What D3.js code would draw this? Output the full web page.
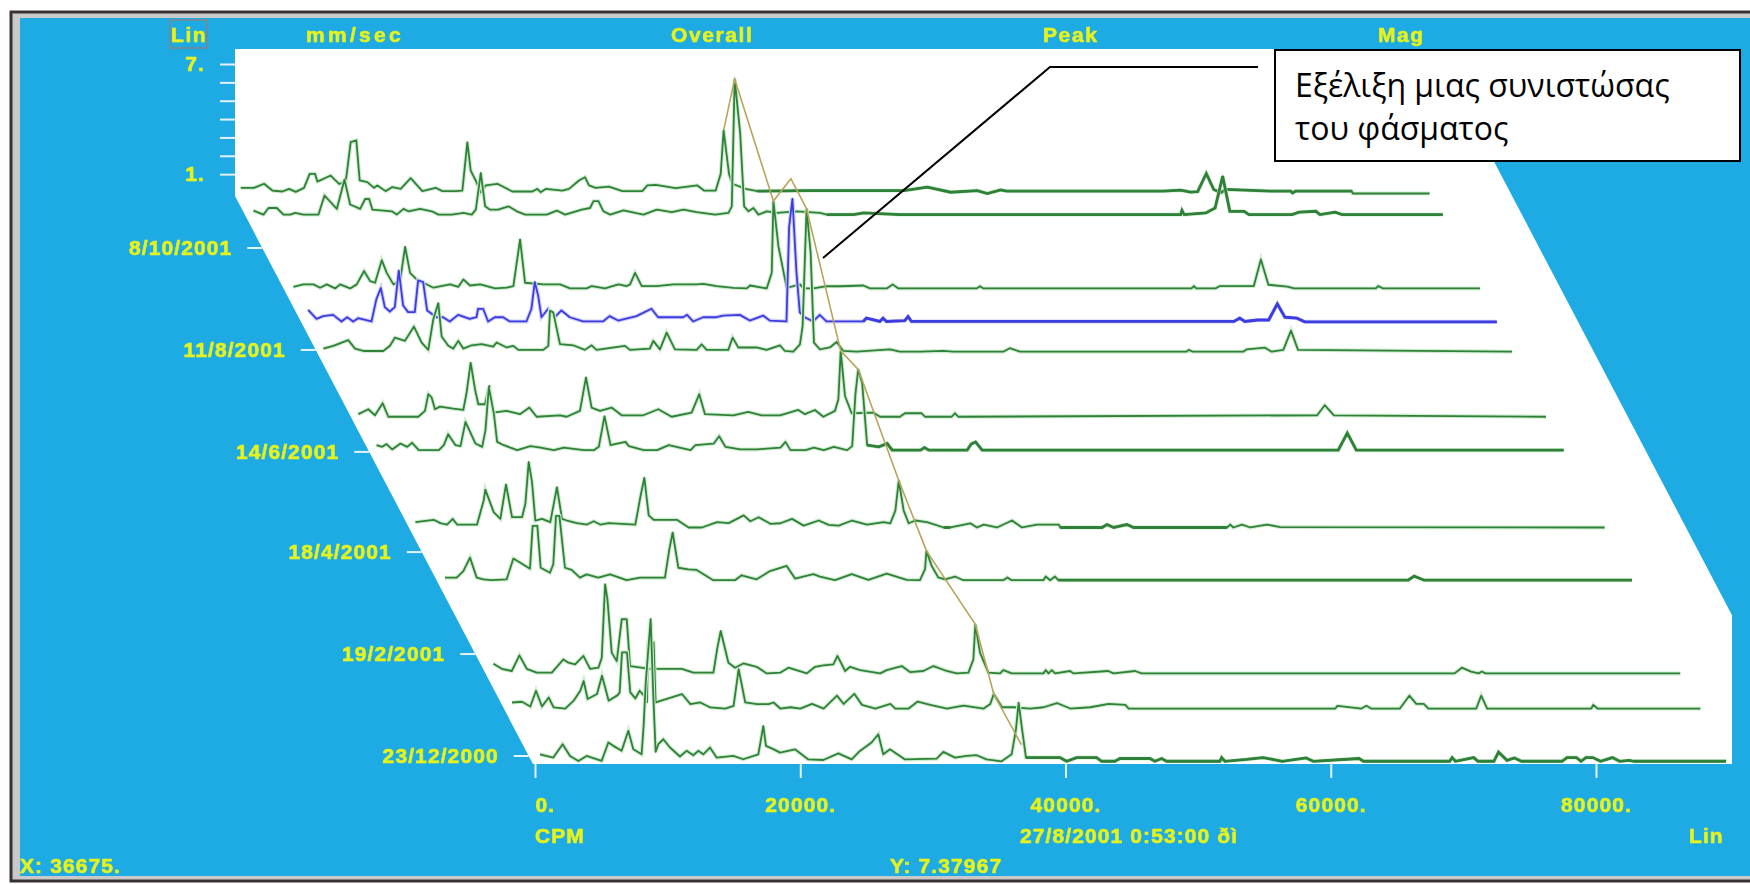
<!DOCTYPE html>
<html>
<head>
<meta charset="utf-8">
<script src="https://cdnjs.cloudflare.com/ajax/libs/d3/7.8.5/d3.min.js"></script>
<style>
  html, body { margin: 0; padding: 0; background: #fff; }
  svg { display: block; }
  .lbl { font-family: "Liberation Sans", sans-serif; font-weight: bold; fill: #e6f21e; stroke: #e6f21e; stroke-width: 0.6px; letter-spacing: 1.1px; }
  .soft { filter: blur(0.65px); }
</style>
</head>
<body>
<div id="chart"></div>
<script>
///////////////////////////////////////////
// Data
///////////////////////////////////////////
// acquisition date of each spectrum, back to front
var rowDates = ["8/11/2001", "27/10/2001", "15/9/2001", "27/8/2001", "10/8/2001", "4/7/2001",
  "15/6/2001", "2/5/2001", "2/4/2001", "8/2/2001", "19/1/2001", "20/12/2000"];

// [CPM, mm/sec] vertices of each spectrum
var row1 = [[264,.31],[1269,.31],[2023,.53],[2651,.16],[3405,.11],[3908,.25],[4410,.09],[5039,.31],[5466,1.07],[5868,1.07],[6044,.65],[7049,.98],[7678,.53],[8180,.62],[8557,2.8],[8984,2.89],[9236,.71],[9813,.62],[10316,.31],[10568,.44],[11196,.13],[11698,.35],[12327,.25],[13081,.84],[13960,.13],[14965,.31],[15468,.13],[16473,.13],[16976,.16],[17353,2.8],[17604,1.25],[17983,.71],[18358,.07],[18736,.44],[19614,.53],[20745,.11],[22253,.11],[22630,.25],[22881,.07],[23258,.25],[24515,.16],[25017,.25],[25771,.71],[26223,.89],[26525,.44],[27027,.31],[28032,.38],[29038,.13],[30546,.13],[30923,.44],[31555,.47],[33062,.29],[34696,.44],[35198,.16],[36078,.16],[36455,1.07],[36675,3.44],[37083,1.07],[37335,.53],[38340,.25],[39220,.13],[42989,.16],[50277,.16],[52036,.35],[53794,.07],[55805,.16],[56559,0],[57563,.2],[58000,.13],[69835,.13],[71130,.18],[71880,.08],[72420,.1],[73070,1.09],[73630,.22],[74160,.05],[74530,.22],[77925,.13],[79430,.13],[79580,.03],[79810,.13],[84040,.13],[84110,0],[89910,0]];
var row2 = [[394,.22],[1148,0],[1525,.36],[2153,.36],[2656,0],[3159,0],[3535,.09],[4164,0],[5295,0],[5747,1.04],[6677,.31],[7255,1.91],[7682,.55],[8436,.31],[8813,.85],[9114,.85],[9366,.27],[10823,.18],[11200,0],[11703,.31],[12080,.18],[12960,.31],[13840,.18],[14340,0],[15345,0],[16226,.09],[16854,0],[17156,.27],[17533,2.27],[17860,.45],[18236,.27],[18840,.27],[19620,.45],[20247,.18],[20876,0],[22508,0],[23266,.22],[23890,0],[25147,.27],[25775,.36],[26025,.73],[26404,.73],[26780,.18],[27287,0],[28292,.23],[29800,0],[30805,.27],[31935,.13],[32816,.27],[33820,.13],[35203,0],[36208,.09],[36460,.45],[36675,7.38],[37088,4.45],[37389,.45],[37716,.18],[38093,.36],[38470,0],[39098,.18],[39850,.09],[41360,.18],[43120,.09],[43620,0],[45630,0],[46390,.09],[49150,0],[70300,0],[70400,.23],[70570,0],[72200,.09],[72900,.36],[73470,2.09],[74010,.18],[75090,.18],[75450,0],[78700,0],[79240,.13],[80500,.18],[80810,0],[81950,.13],[82480,0],[90060,0]];
var row3 = [[485,.09],[1239,.22],[1993,.22],[2496,.04],[3000,.22],[3627,0],[4004,.22],[4757,0],[5260,.22],[5813,.95],[6265,.4],[6642,.31],[7145,1.54],[7522,.85],[8024,.22],[8527,.4],[8904,2.27],[9281,.85],[9909,.4],[10286,.31],[11040,.04],[12300,.22],[12925,.09],[13300,.49],[13800,.16],[14560,.22],[15060,.13],[15690,0],[16570,.04],[17070,.13],[17574,2.67],[17950,.31],[19330,.22],[20590,.22],[21340,0],[22600,0],[22980,.13],[23980,0],[24990,.22],[25615,.13],[25870,.22],[26245,.85],[26750,.13],[27880,.13],[29130,.22],[30895,.22],[31400,.25],[32400,.12],[33660,.03],[34665,0],[34920,.16],[36170,0],[36550,.85],[36675,4.76],[37052,2.3],[37680,.03],[38686,.22],[38940,0],[39690,0],[40700,.12],[41700,.12],[43460,.16],[43960,0],[45220,0],[45670,.22],[46100,0],[52000,0],[52250,.12],[52510,0],[68200,0],[68380,.13],[68560,0],[70000,0],[70350,.13],[71980,.13],[72900,.13],[73430,1.58],[74000,.2],[75410,.1],[75950,0],[82100,0],[82270,.13],[82630,0],[89960,0]];
var row4 = [[274,.65],[903,.16],[1405,.31],[2160,.38],[2790,.02],[3214,.25],[3670,.02],[4044,.2],[5050,.02],[5425,1.25],[5753,1.84],[6054,.8],[6430,.56],[6808,.8],[7110,2.8],[7436,.89],[7813,.53],[8316,.53],[8567,2.26],[8944,2.17],[9245,.62],[9950,.25],[10452,.25],[10955,.02],[11583,.38],[12463,.16],[12965,.25],[13090,.71],[13468,.71],[13845,.02],[14350,.25],[14975,.25],[15480,.02],[16735,.02],[17110,.71],[17360,2.17],[17615,1.44],[17865,.25],[18370,.71],[18870,.25],[19375,.62],[20000,.25],[21000,.02],[22500,.02],[23000,.31],[23650,.07],[25030,.31],[26160,.71],[26660,.25],[28550,.25],[28850,.38],[29300,.02],[30056,.25],[31060,.25],[31564,.34],[32820,.38],[33575,.07],[34580,.34],[35080,.07],[36340,.02],[36540,5.16],[36790,6.71],[37093,2.7],[37344,.52],[37720,.25],[38350,.02],[38850,.38],[39354,.02],[42120,.02],[42370,.2],[43375,.02],[43625,.2],[43880,.02],[45260,.07],[45510,.29],[45760,.02],[70070,.02],[70520,.2],[70900,.02],[71870,.1],[72700,.1],[73350,.98],[73920,.25],[74820,.2],[75420,0],[89900,0]];
var row5 = [[236,.17],[990,.32],[2120,.63],[2625,.17],[3252,.04],[4130,.04],[4760,.04],[5262,.32],[5640,.77],[6393,.59],[7070,1.37],[7650,.5],[8150,.1],[8530,1.77],[8906,2.65],[9158,.83],[9660,.32],[10040,.17],[10414,.59],[10790,.17],[11420,.35],[12170,.41],[13050,.28],[13300,.5],[14060,.23],[14560,.32],[14940,.1],[16820,.1],[17200,.32],[17325,2.23],[17575,2.14],[18080,.41],[19080,.35],[19960,.1],[20470,.35],[20840,.1],[22980,.32],[23356,.1],[24860,.17],[25115,.59],[25620,.13],[26123,1.04],[26750,.13],[28385,.1],[28760,.4],[29140,.1],[30770,.1],[31100,.77],[31526,.23],[32910,.23],[33660,.1],[34667,.35],[35044,.04],[35675,0],[36175,.4],[36376,1.4],[36675,7.78],[36980,5.4],[37230,.5],[37680,.13],[38430,.23],[38940,.53],[39440,.04],[40450,0],[42960,.13],[43710,0],[45220,0],[46980,.04],[47735,0],[51500,0],[52000,.19],[52770,0],[65300,0],[65500,.1],[65800,0],[69600,0],[69860,.13],[71240,.22],[71740,0],[72620,.1],[73200,1.15],[73730,.1],[89870,0]];
var row6 = [[304,.14],[1058,.41],[1560,.08],[2138,.74],[2565,0],[4827,0],[5330,.32],[5580,1.23],[5830,1.05],[6084,.41],[6460,.55],[7466,.44],[8220,.37],[8470,1.32],[8773,2.95],[9100,1.5],[9350,.68],[9850,.68],[10180,1.68],[10480,.23],[11486,.32],[12490,.14],[13200,.5],[13750,0],[15510,.08],[16010,0],[17015,.32],[17470,2.14],[17895,.5],[18520,.32],[19400,.5],[20157,.08],[21790,.08],[22920,.41],[23926,0],[25434,.22],[26010,1.23],[26440,.14],[28575,.08],[29706,.26],[30710,.08],[32100,.08],[33480,.37],[33980,.14],[34735,.37],[35365,0],[36245,.32],[36500,.95],[36675,3.59],[37000,1.13],[37500,.19],[39135,.23],[39640,0],[41145,0],[41520,.19],[42780,.19],[43030,0],[45040,0],[45290,.19],[45540,0],[72600,.08],[73170,.63],[73860,.08],[89850,0]];
var row7 = [[354,.27],[781,.18],[1108,.33],[1535,.04],[2163,.36],[2666,.18],[3040,.4],[3545,0],[5053,0],[5430,.27],[5757,.87],[6310,.27],[6686,.22],[7063,1.54],[7817,.36],[8320,.18],[8570,1.09],[8823,3.42],[9200,2],[9450,.45],[9950,.27],[10960,0],[11960,.22],[12718,.14],[13725,0],[14480,.14],[15990,0],[16740,0],[17115,.18],[17545,1.85],[18000,.27],[18500,.36],[19130,.45],[19375,.22],[20510,0],[21510,0],[22390,.27],[24030,0],[24400,.27],[25785,.36],[26190,.76],[26665,.18],[27800,.04],[29050,.04],[30810,.14],[31190,.45],[31570,0],[32700,0],[33330,.14],[34080,0],[34837,.18],[35840,0],[36220,.22],[36470,3.09],[36675,4.4],[36975,3.64],[37350,.27],[38230,.18],[38860,.36],[39235,0],[41370,0],[41670,.14],[42000,0],[44890,0],[45190,.33],[45520,.45],[46020,0],[72870,0],[73550,.93],[74230,0],[89860,0]];
var row8 = [[225,.29],[1607,.42],[2110,.24],[2612,.16],[3040,.47],[3370,.16],[4875,.16],[5377,1.47],[5500,2.06],[6130,.84],[6633,.47],[7060,2.35],[7513,.56],[8267,.56],[8520,1.29],[8770,3.57],[9020,2.47],[9270,.38],[9775,.47],[10400,.29],[10900,2.2],[11280,.47],[11660,.38],[12410,.24],[13170,.16],[13670,.34],[14170,.16],[14800,.24],[16810,.16],[17190,1.66],[17490,2.71],[17820,.66],[18190,.42],[19950,.42],[20830,0],[21830,0],[22970,.29],[23850,.24],[24980,.66],[25480,.34],[26110,.56],[26990,.2],[27750,.23],[28627,.47],[29506,.1],[30637,.38],[31390,.14],[32145,.1],[33150,.38],[34280,.16],[35537,.29],[36040,.23],[36417,.92],[36675,2.56],[37045,.92],[37420,.23],[37925,.38],[38800,.29],[40060,0],[40560,0],[42070,.23],[42570,0],[43080,.16],[44080,0],[45210,.38],[45965,0],[47100,.16],[48730,.16],[48860,0],[52000,0],[52375,.16],[52880,0],[53880,.16],[54380,0],[61420,0],[61670,.16],[61900,0],[62550,.16],[63180,0],[64440,.16],[65440,.02],[89900,0]];
var row9 = [[376,.14],[1255,.14],[1758,.5],[2260,1.23],[2763,.14],[3266,.05],[3890,0],[5025,.05],[5530,1.18],[6030,.96],[6780,.63],[6985,2.96],[7336,2.96],[7590,.68],[8290,.41],[8540,.87],[8744,3.5],[9000,3.5],[9420,.68],[9925,.56],[10550,.14],[11055,.32],[11935,.14],[12815,.32],[14070,0],[15080,.14],[16960,.14],[17290,1.69],[17540,2.6],[17970,.68],[18720,.59],[19350,.56],[20600,0],[22240,0],[22740,.27],[23870,.05],[24880,.5],[26140,.78],[26770,.09],[28150,.33],[28650,.2],[29780,0],[31040,.33],[32300,.02],[33680,.36],[35190,.02],[36190,0],[36570,.6],[36675,1.6],[37070,.78],[37570,.15],[38075,.05],[38830,.2],[39460,0],[42470,0],[42780,.15],[43100,0],[45490,0],[45670,.2],[46000,0],[46370,.2],[46620,0],[73000,0],[73450,.22],[74200,0],[89870,0]];
var row10 = [[341,.53],[970,.25],[1723,.13],[2300,.98],[2854,.25],[3610,.04],[4740,.04],[5620,.76],[6000,.58],[6500,.49],[7126,.95],[7630,.25],[8257,.31],[8510,.85],[8760,4.86],[8936,4.04],[9262,1.13],[9640,.67],[10017,2.95],[10393,2.95],[10644,.4],[12150,.25],[13410,.25],[14540,.25],[15420,.04],[16930,.04],[17230,1.4],[17480,2.31],[18060,.58],[18560,.31],[19190,.54],[20190,.36],[20950,0],[21960,.04],[22585,.31],[23970,0],[24595,.36],[25225,.44],[25976,.49],[26280,.95],[26860,.13],[27230,.36],[27990,.18],[29500,0],[30000,.18],[31130,.4],[31755,.07],[32760,.13],[33520,.4],[34520,.13],[35275,0],[36155,.04],[36530,.76],[36675,2.67],[37030,1.13],[37660,.04],[38540,0],[38790,.18],[39420,0],[41810,0],[41990,.18],[42190,0],[42440,.18],[42690,0],[43820,.13],[44070,0],[46700,.13],[47090,0],[48720,.13],[49220,0],[72810,0],[73360,.31],[74050,.1],[74620,0],[74870,.1],[75150,0],[89830,0]];
var row11 = [[351,.33],[1105,.37],[1733,.11],[2160,.97],[2610,.11],[3115,.6],[3490,.06],[4370,0],[5000,.43],[5500,.97],[5755,1.5],[6056,.52],[6760,.79],[7137,1.79],[7640,.43],[8317,.73],[8470,.88],[8645,3.06],[9020,3.06],[9270,.88],[9650,.55],[9975,.97],[10480,.55],[10530,.33],[10600,3.6],[11030,3.6],[11180,.33],[13170,.79],[13800,.24],[14550,.33],[15300,.06],[16435,0],[17060,.15],[17440,2.15],[17940,.33],[18820,.24],[19700,.24],[20080,.33],[20584,0],[21340,.07],[22090,0],[22970,.25],[23850,0],[24855,.7],[25360,.25],[26160,.8],[26740,.2],[27750,0],[28880,.25],[29250,0],[30260,0],[30940,.38],[31890,.2],[33150,0],[34400,.16],[35915,0],[36415,.25],[36675,.79],[37300,.07],[38175,.07],[39430,0],[40440,.07],[41440,.3],[42450,0],[43950,.07],[45340,.25],[46600,.2],[46850,0],[62430,0],[62600,.15],[64400,0],[64770,.15],[65130,0],[67300,0],[68010,.7],[68540,.25],[69100,.25],[69450,0],[73060,0],[73430,.7],[73880,0],[81730,0],[81880,.2],[82200,0],[89960,0]];
var row12 = [[376,.38],[1380,.2],[2085,.93],[2640,.29],[3270,.02],[3895,.29],[5025,.02],[5530,1.02],[5905,.84],[6533,.57],[7036,1.66],[7413,.66],[8040,.38],[8190,1.93],[8343,4.2],[8720,7.75],[8920,3.57],[9097,.51],[9300,.93],[9675,1.2],[10180,.75],[10930,.26],[11430,.57],[11935,.33],[12314,.57],[12690,.38],[13190,.75],[13695,.2],[14950,.29],[15700,.11],[16840,.38],[17215,1.93],[17415,.84],[17970,.66],[18473,.47],[19600,.65],[20610,.1],[21740,.07],[22870,.43],[23875,.1],[24500,.56],[25380,1.02],[25885,1.47],[26260,.38],[26765,.65],[27900,.1],[30285,.14],[30790,.51],[31670,.2],[32545,.29],[33300,.33],[34050,.1],[35185,0],[35940,.38],[36265,1.74],[36465,3.2],[36690,1.93],[37020,.2],[39580,.2],[40090,0],[40840,.2],[42350,.2],[42720,0],[43730,0],[44100,.15],[46370,.15],[46740,0],[47250,.15],[47620,0],[51640,0],[51770,.2],[52020,0],[53640,.1],[54900,.2],[56350,0],[58140,.18],[58690,0],[62130,.15],[62470,0],[68970,0],[69150,.2],[69400,0],[70780,.2],[71100,0],[72300,0],[72650,.5],[73290,.05],[73850,.18],[74380,0],[77440,0],[77810,.2],[78530,.2],[78870,0],[79240,.2],[79770,.2],[80340,0],[81240,.2],[81780,0],[82490,.05],[82870,0],[89810,0]];
var rows = [row1, row2, row3, row4, row5, row6, row7, row8, row9, row10, row11, row12];

// CPM stretches where the trace is smeared into a thick band
var rowBands = [[[39220, 84040]], [[43620, 90060]], [], [[42120, 89900]], [], [], [[37350, 89860]],
  [[40060, 42000], [48860, 61420]], [[46620, 89870]], [], [], [[37020, 89810]]];

// amplitude of the followed component (36675 CPM) on each spectrum
var trackCpm = 36675;
var trackAmp = [3.44, 7.38, 4.76, 7.8, 7.78, 3.59, 4.4, 2.56, 1.6, 2.67, 0.79, 0.9];
var selectedRow = 3;

// axis ticks and captions
var cpmTicks = [0, 20000, 40000, 60000, 80000];
var ampTicks = [1, 2, 3, 4, 5, 6, 7];
var ampLabels = [1, 7];
var dateTicks = ["8/10/2001", "11/8/2001", "14/6/2001", "18/4/2001", "19/2/2001", "23/12/2000"];
var headerLabels = ["Lin", "mm/sec", "Overall", "Peak", "Mag"];
var headerX = [171, 306, 671, 1043, 1378];
var noteLines = ["Εξέλιξη μιας συνιστώσας", "του φάσματος"];

///////////////////////////////////////////
// Scales
///////////////////////////////////////////
var width = 1750, height = 884;
var parseDate = d3.timeParse("%d/%m/%Y");
var shear = 0.5245;

var xScale = d3.scaleLinear().domain([0, 80000]).range([535, 1596]);
var ampScale = d3.scaleLinear().domain([0, 7]).range([192.5, 64]);
var depthScale = d3.scaleTime().domain([parseDate("23/12/2000"), parseDate("8/10/2001")]).range([756, 248]);
var frontY = depthScale(parseDate(rowDates[rowDates.length - 1]));

function rowX(cpm, date) {
  return xScale(cpm) - shear * (frontY - depthScale(date));
}
function rowY(amp, date) {
  return depthScale(date) - (ampScale(0) - ampScale(amp));
}
function rowLine(date) {
  return d3.line()
    .x(function(d) { return rowX(d[0], date); })
    .y(function(d) { return rowY(d[1], date); });
}

///////////////////////////////////////////
// Frame and plot floor
///////////////////////////////////////////
var svg = d3.select("#chart").append("svg")
  .attr("width", width)
  .attr("height", height);

var soft = svg.append("g").attr("class", "soft");

soft.append("rect").attr("x", 11).attr("y", 12).attr("width", width + 20).attr("height", 869)
  .attr("fill", "#c9c9c9").attr("stroke", "#3a3232").attr("stroke-width", 3);
soft.append("rect").attr("x", 20).attr("y", 18).attr("width", width).attr("height", 858)
  .attr("fill", "#1eaae2");

var floorLeft = 235, floorRight = 1435, floorTop = 49, floorBottom = 764, floorClip = 1732;
var floorPts = [[floorLeft, floorTop], [floorRight, floorTop],
  [floorClip, floorTop + (floorClip - floorRight) / shear], [floorClip, floorBottom],
  [floorLeft + (floorBottom - 196) * shear, floorBottom], [floorLeft, 196]];
soft.append("polygon")
  .attr("points", floorPts.map(function(p) { return p.join(","); }).join(" "))
  .attr("fill", "#fff");

///////////////////////////////////////////
// Axes
///////////////////////////////////////////
var xAxis = d3.axisBottom(xScale)
  .tickValues(cpmTicks)
  .tickSize(14)
  .tickPadding(19)
  .tickFormat(function(d) { return d + "."; });
var xG = soft.append("g").attr("transform", "translate(0," + floorBottom + ")").call(xAxis);
xG.selectAll("text").filter(function(d) { return d === 0; }).attr("text-anchor", "start");

var yAxis = d3.axisLeft(ampScale)
  .tickValues(ampTicks)
  .tickSize(15)
  .tickPadding(15)
  .tickFormat(function(d) { return ampLabels.indexOf(d) >= 0 ? d + "." : ""; });
var yG = soft.append("g").attr("transform", "translate(" + floorLeft + ",0)").call(yAxis);

[xG, yG].forEach(function(g) {
  g.select(".domain").remove();
  g.attr("font-family", null).attr("font-size", null);
  g.selectAll("line").attr("stroke", "#e4f3fa").attr("stroke-width", 2);
  g.selectAll("text").attr("class", "lbl").attr("font-size", 21);
});

// depth axis runs down the slanted edge of the floor
var depthTick = soft.selectAll(".depthTick")
  .data(dateTicks)
  .enter().append("g")
  .attr("class", "depthTick")
  .attr("transform", function(d) {
    var y = depthScale(parseDate(d));
    return "translate(" + (floorLeft + (y - 196) * shear) + "," + y + ")";
  });
depthTick.append("line")
  .attr("x1", -15).attr("x2", 0)
  .attr("stroke", "#e4f3fa").attr("stroke-width", 2);
depthTick.append("text")
  .attr("class", "lbl")
  .attr("x", -30)
  .attr("dy", "0.35em")
  .attr("text-anchor", "end")
  .attr("font-size", 21)
  .text(function(d) { return d; });

///////////////////////////////////////////
// Spectra, back to front
///////////////////////////////////////////
rows.forEach(function(points, i) {
  var date = parseDate(rowDates[i]);
  var colour = i === selectedRow ? "#3c3ce0" : "#2f8038";
  var halo = i === selectedRow ? "#cfcff7" : "#cfeccf";
  // pale fringe the scan leaves round every trace
  soft.append("path")
    .attr("d", rowLine(date)(points))
    .attr("fill", "none")
    .attr("stroke", halo)
    .attr("stroke-width", 4);
  soft.append("path")
    .attr("d", rowLine(date)(points))
    .attr("fill", "none")
    .attr("stroke", colour)
    .attr("stroke-width", 1.8)
    .attr("stroke-linejoin", "round");
  rowBands[i].forEach(function(band) {
    var part = points.filter(function(p) { return p[0] >= band[0] && p[0] <= band[1]; });
    soft.append("path")
      .attr("d", rowLine(date)(part))
      .attr("fill", "none")
      .attr("stroke", colour)
      .attr("stroke-width", 2.8);
  });
});

// the followed component, joined from spectrum to spectrum
var trackLine = d3.line()
  .x(function(d, i) { return rowX(trackCpm, parseDate(rowDates[i])); })
  .y(function(d, i) { return rowY(d, parseDate(rowDates[i])); });
soft.append("path")
  .attr("d", trackLine(trackAmp))
  .attr("fill", "none")
  .attr("stroke", "#b9a45c")
  .attr("stroke-width", 1.6);

///////////////////////////////////////////
// Captions
///////////////////////////////////////////
soft.selectAll(".head")
  .data(headerLabels)
  .enter().append("text")
  .attr("class", "lbl head")
  .attr("x", function(d, i) { return headerX[i]; })
  .attr("y", 41.5)
  .attr("font-size", 21)
  .style("letter-spacing", function(d) { return d === "mm/sec" ? "3.3px" : "1.6px"; })
  .text(function(d) { return d; });

soft.append("rect").attr("x", 170).attr("y", 20).attr("width", 37).attr("height", 28)
  .attr("fill", "none").attr("stroke", "#b0705a").attr("stroke-width", 1);

function caption(txt, x, y) {
  soft.append("text").attr("class", "lbl").attr("x", x).attr("y", y).attr("font-size", 21).text(txt);
}
caption("CPM", 535, 842.5);
caption("27/8/2001 0:53:00 ðì", 1020, 842.5);
caption("Lin", 1689, 842.5);
caption("X: 36675.", 20, 872.5);
caption("Y: 7.37967", 890, 872.5);

///////////////////////////////////////////
// Annotation
///////////////////////////////////////////
svg.append("path")
  .attr("d", d3.line()([[1258, 67], [1050, 67], [823, 258]]))
  .attr("fill", "none")
  .attr("stroke", "#000")
  .attr("stroke-width", 2);
svg.append("rect")
  .attr("x", 1275).attr("y", 50).attr("width", 465).attr("height", 111)
  .attr("fill", "#fff").attr("stroke", "#000").attr("stroke-width", 2);
svg.selectAll(".note")
  .data(noteLines)
  .enter().append("text")
  .attr("class", "note")
  .attr("x", 1295)
  .attr("y", function(d, i) { return 97 + i * 43; })
  .attr("font-family", "'Open Sans', sans-serif")
  .attr("font-size", 32)
  .attr("fill", "#000")
  .text(function(d) { return d; });
</script>
</body>
</html>
